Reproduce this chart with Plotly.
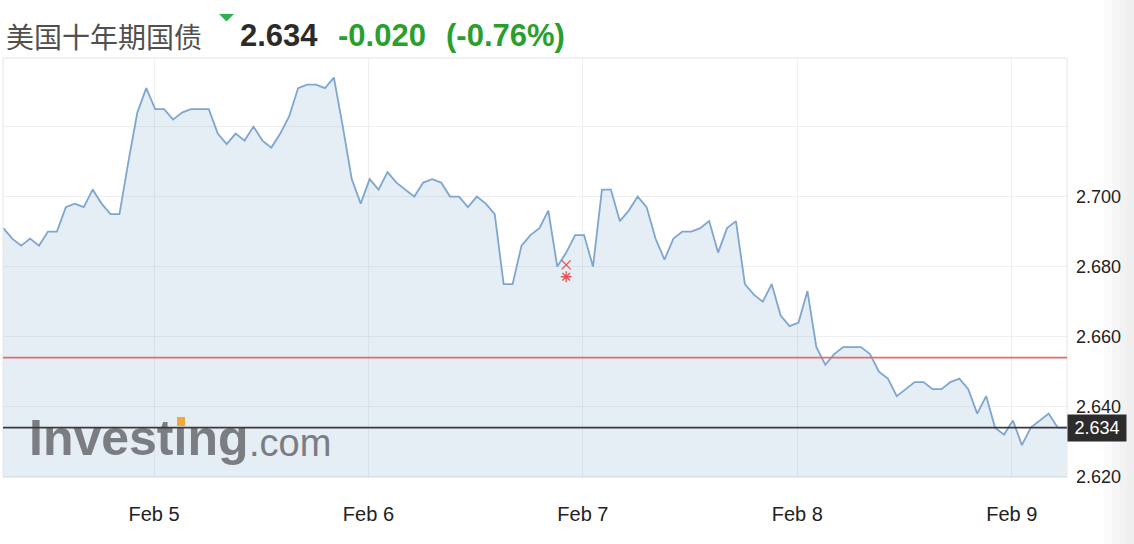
import plotly.graph_objects as go
import pandas as pd

# ---------------- data ----------------
title_text = "美国十年期国债"
last_price_text = "2.634"
change_abs_text = "-0.020"
change_pct_text = "(-0.76%)"

start_time = "2019-02-04 07:08"
yield_values = [
    2.691, 2.688, 2.686, 2.688, 2.686, 2.690, 2.690, 2.697, 2.698, 2.697,
    2.702, 2.698, 2.695, 2.695, 2.710, 2.724, 2.731, 2.725, 2.725, 2.722,
    2.724, 2.725, 2.725, 2.725, 2.718, 2.715, 2.718, 2.716, 2.720, 2.716,
    2.714, 2.718, 2.723, 2.731, 2.732, 2.732, 2.731, 2.734, 2.720, 2.705,
    2.698, 2.705, 2.702, 2.707, 2.704, 2.702, 2.700, 2.704, 2.705, 2.704,
    2.700, 2.700, 2.697, 2.700, 2.698, 2.695, 2.675, 2.675, 2.686, 2.689,
    2.691, 2.696, 2.680, 2.684, 2.689, 2.689, 2.680, 2.702, 2.702, 2.693,
    2.696, 2.700, 2.697, 2.688, 2.682, 2.688, 2.690, 2.690, 2.691, 2.693,
    2.684, 2.691, 2.693, 2.675, 2.672, 2.670, 2.675, 2.666, 2.663, 2.664,
    2.673, 2.657, 2.652, 2.655, 2.657, 2.657, 2.657, 2.655, 2.650, 2.648,
    2.643, 2.645, 2.647, 2.647, 2.645, 2.645, 2.647, 2.648, 2.645, 2.638,
    2.643, 2.634, 2.632, 2.636, 2.629, 2.634, 2.636, 2.638, 2.634, 2.634,
]
x_range = ["2019-02-04 07:06", "2019-02-09 06:11"]
x_tick_dates = ["2019-02-05", "2019-02-06", "2019-02-07", "2019-02-08", "2019-02-09"]
x_tick_labels = ["Feb 5", "Feb 6", "Feb 7", "Feb 8", "Feb 9"]
y_tick_values = [2.62, 2.64, 2.66, 2.68, 2.70, 2.72]
y_tick_labels = ["2.620", "2.640", "2.660", "2.680", "2.700", ""]
y_range = [2.6196, 2.7396]
prev_close = 2.654
current_value = 2.634
event_time = "2019-02-06 22:08"
event_values = [2.6805, 2.6771]
event_symbols = ["x-thin-open", "asterisk-open"]

# ---------------- layout helpers ----------------
W, H = 1134, 544
L, R, T, B = 3, 67, 58, 66
PW, PH = W - L - R, H - T - B


def fx(px):
    return (px - L) / PW


def fy(py):
    return (H - B - py) / PH


times = pd.date_range(start_time, periods=len(yield_values), freq="h")

SANS = "Liberation Sans, Arial, Helvetica, sans-serif"
LINE_COLOR = "#7ea6d0"
GREEN = "#2a9f2d"

fig = go.Figure()

fig.add_trace(go.Scatter(
    x=times, y=yield_values, mode="lines",
    line=dict(color=LINE_COLOR, width=1.8),
    fill="tozeroy", fillcolor="rgba(110,155,200,0.18)",
    hoverinfo="skip", showlegend=False,
))

for val, sym in zip(event_values, event_symbols):
    fig.add_trace(go.Scatter(
        x=[event_time], y=[val], mode="markers",
        marker=dict(symbol=sym, size=9, color="#e8504f",
                    line=dict(color="#e8504f", width=1.3)),
        hoverinfo="skip", showlegend=False,
    ))

# watermark on an overlay axis so the reference lines can sit on top of it
fig.add_trace(go.Scatter(
    x=[fx(29)], y=[fy(442.5)], xaxis="x2", yaxis="y2",
    mode="text", text=["Investing"], textposition="middle right",
    textfont=dict(family=SANS, size=50, color="#7a7d81", weight="bold"),
    cliponaxis=False, hoverinfo="skip", showlegend=False,
))
fig.add_trace(go.Scatter(
    x=[fx(249)], y=[fy(446)], xaxis="x2", yaxis="y2",
    mode="text", text=[".com"], textposition="middle right",
    textfont=dict(family=SANS, size=38, color="#7a7d81"),
    cliponaxis=False, hoverinfo="skip", showlegend=False,
))

shapes = []
# right-edge grey page background
for x0, x1, c in [(1104, 1112, "#fbfbfb"), (1112, 1120, "#f6f6f6"),
                  (1120, 1127, "#f2f2f2"), (1127, 1135, "#efefef")]:
    shapes.append(dict(type="rect", xref="paper", yref="paper",
                       x0=fx(x0), x1=fx(x1), y0=fy(H + 1), y1=fy(-1),
                       fillcolor=c, line=dict(width=0), layer="below"))
# chart frame (top, left, right)
shapes.append(dict(type="line", xref="paper", yref="paper", x0=0, x1=1, y0=1, y1=1,
                   line=dict(color="#e4e4e4", width=1), layer="above"))
shapes.append(dict(type="line", xref="paper", yref="paper", x0=0, x1=0, y0=0, y1=1,
                   line=dict(color="#e4e4e4", width=1), layer="above"))
shapes.append(dict(type="line", xref="paper", yref="paper", x0=1, x1=1, y0=0, y1=1,
                   line=dict(color="#e4e4e4", width=1), layer="above"))
# previous close and current value lines
shapes.append(dict(type="line", xref="paper", yref="y", x0=0, x1=1,
                   y0=prev_close, y1=prev_close,
                   line=dict(color="#e46c6c", width=1.8), layer="above"))
shapes.append(dict(type="line", xref="paper", yref="y", x0=0, x1=1,
                   y0=current_value, y1=current_value,
                   line=dict(color="#3a3a3a", width=1.6), layer="above"))
# orange dot of the watermark "i"
shapes.append(dict(type="rect", xref="paper", yref="paper",
                   x0=fx(177), x1=fx(185), y0=fy(426), y1=fy(417),
                   fillcolor="#f0a836", line=dict(width=0), layer="above"))
# green down triangle in header
shapes.append(dict(type="path", xref="paper", yref="paper",
                   path=f"M {fx(219)},{fy(14)} L {fx(234)},{fy(14)} L {fx(226.5)},{fy(21.5)} Z",
                   fillcolor="#31b050", line=dict(width=0)))

annotations = [
    dict(xref="paper", yref="paper", x=fx(4), y=fy(36), xanchor="left", yanchor="middle",
         text=title_text, showarrow=False,
         font=dict(family="Noto Sans CJK SC, sans-serif", size=28, color="#505050")),
    dict(xref="paper", yref="paper", x=fx(238), y=fy(36), xanchor="left", yanchor="middle",
         text=f"<b>{last_price_text}</b>", showarrow=False,
         font=dict(family=SANS, size=31, color="#2b2b2b")),
    dict(xref="paper", yref="paper", x=fx(336), y=fy(36), xanchor="left", yanchor="middle",
         text=f"<b>{change_abs_text}</b>", showarrow=False,
         font=dict(family=SANS, size=31, color=GREEN)),
    dict(xref="paper", yref="paper", x=fx(444), y=fy(36), xanchor="left", yanchor="middle",
         text=f"<b>{change_pct_text}</b>", showarrow=False,
         font=dict(family=SANS, size=31, color=GREEN)),
    dict(xref="paper", yref="y", x=1.0, y=current_value, xanchor="left", yanchor="middle",
         text=last_price_text, showarrow=False, bgcolor="#2c2c2c",
         width=56, height=24, align="center",
         font=dict(family=SANS, size=18, color="white")),
]

fig.update_layout(
    width=W, height=H,
    margin=dict(l=L, r=R, t=T, b=B),
    paper_bgcolor="white", plot_bgcolor="white",
    showlegend=False,
    shapes=shapes, annotations=annotations,
    xaxis=dict(type="date", range=x_range, tickvals=x_tick_dates, ticktext=x_tick_labels,
               showgrid=True, gridcolor="#efefef", gridwidth=1,
               zeroline=False, showline=False, ticks="",
               tickfont=dict(family=SANS, size=20, color="#222"),
               ticklabelstandoff=22, fixedrange=True),
    yaxis=dict(range=y_range, side="right", tickvals=y_tick_values, ticktext=y_tick_labels,
               showgrid=True, gridcolor="#efefef", gridwidth=1,
               zeroline=False, showline=False, ticks="",
               tickfont=dict(family=SANS, size=18, color="#222"),
               ticklabelstandoff=8, fixedrange=True),
    xaxis2=dict(overlaying="x", range=[0, 1], visible=False, fixedrange=True),
    yaxis2=dict(overlaying="y", range=[0, 1], visible=False, fixedrange=True),
)

fig.write_html(
    "out.html",
    config={"displayModeBar": False},
    post_script="document.body.style.margin='0';document.body.style.padding='0';",
)
